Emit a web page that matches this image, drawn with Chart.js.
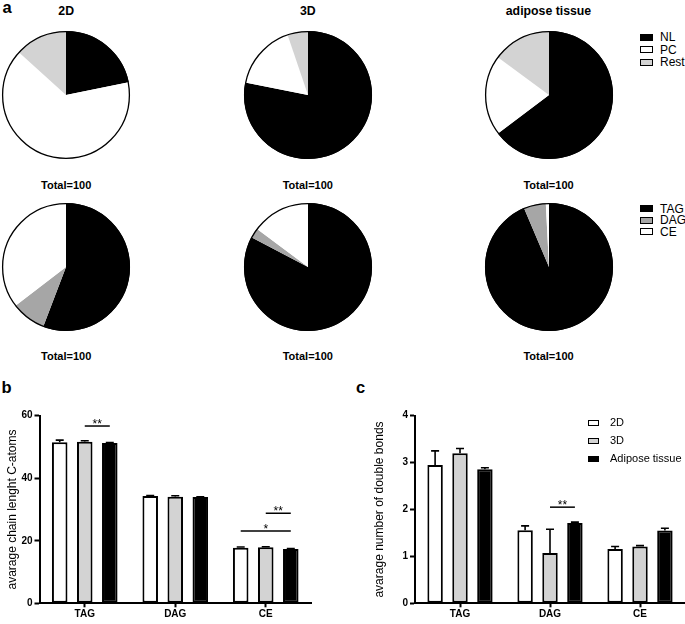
<!DOCTYPE html>
<html><head><meta charset="utf-8">
<script src="https://cdn.jsdelivr.net/npm/chart.js@4.4.0/dist/chart.umd.min.js"></script>
<style>
html,body{margin:0;padding:0;background:#fff;}
body{width:685px;height:624px;position:relative;overflow:hidden;font-family:'Liberation Sans',Arial,sans-serif;color:#000;}
.abs{position:absolute;line-height:1;white-space:nowrap;}
canvas{position:absolute;}
.sw{position:absolute;border:1px solid #000;box-sizing:border-box;}
</style></head>
<body>
<script>
// ---------- data ----------
const pieTitles = ['2D', '3D', 'adipose tissue'];
const totalLabel = 'Total=100';
const lipidClasses = ['NL', 'PC', 'Rest'];
const lipid2D = [21.8, 64.9, 13.3];
const lipid3D = [78.1, 16.7, 5.2];
const lipidAdipose = [64.7, 20.4, 14.9];
const neutralClasses = ['TAG', 'DAG', 'CE'];
const neutral2D = [55.8, 8.8, 35.4];
const neutral3D = [82.7, 2.5, 14.8];
const neutralAdipose = [93.6, 5.6, 0.8];

const barCategories = ['TAG', 'DAG', 'CE'];
const seriesNames = ['2D', '3D', 'Adipose tissue'];
const chain2D = [51.5, 34.3, 17.8];
const chain3D = [51.7, 34.1, 17.9];
const chainAdipose = [51.3, 34.0, 17.4];
const chain2DErr = [0.7, 0.2, 0.2];
const chain3DErr = [0.3, 0.3, 0.2];
const chainAdiposeErr = [0.1, 0.1, 0.1];
const chainTicks = [0, 20, 40, 60];
const bonds2D = [2.95, 1.56, 1.16];
const bonds3D = [3.20, 1.07, 1.21];
const bondsAdipose = [2.86, 1.71, 1.55];
const bonds2DErr = [0.30, 0.09, 0.05];
const bonds3DErr = [0.10, 0.51, 0.02];
const bondsAdiposeErr = [0.03, 0.02, 0.05];
const bondsTicks = [0, 1, 2, 3, 4];
const chainSig = [
  {cat: 'TAG', from: 1, to: 2, value: 56.7, text: '**'},
  {cat: 'CE', from: 1, to: 2, value: 28.8, text: '**'},
  {cat: 'CE', from: 0, to: 2, value: 23.1, text: '*'}
];
const bondsSig = [
  {cat: 'DAG', from: 1, to: 2, value: 2.05, text: '**'}
];

// ---------- styling ----------
const FONT = "'Liberation Sans', Arial, sans-serif";
const lipidColors = ['#000000', '#ffffff', '#d3d3d3'];
const neutralColors = ['#000000', '#a6a6a6', '#ffffff'];
const barColors = ['#ffffff', '#d3d3d3', '#000000'];

function addText(txt, x, y, size, bold, align) {
  const d = document.createElement('div');
  d.className = 'abs';
  d.textContent = txt;
  d.style.fontSize = size + 'px';
  d.style.fontWeight = bold ? 'bold' : 'normal';
  d.style.top = (y - 0.8465 * size) + 'px'; // y = baseline
  if (align === 'center') { d.style.left = x + 'px'; d.style.transform = 'translateX(-50%)'; }
  else d.style.left = x + 'px';
  document.body.appendChild(d);
}
function addCanvas(left, top, w, h) {
  const c = document.createElement('canvas');
  c.width = w; c.height = h;
  c.style.left = left + 'px'; c.style.top = top + 'px';
  c.style.width = w + 'px'; c.style.height = h + 'px';
  document.body.appendChild(c);
  return c;
}
function addLegend(labels, colors, x, yCenters, sw, swH, textX, size, bw) {
  labels.forEach((l, i) => {
    const s = document.createElement('div');
    s.className = 'sw';
    s.style.left = x + 'px'; s.style.top = (yCenters[i] - swH / 2) + 'px';
    s.style.width = sw + 'px'; s.style.height = swH + 'px';
    s.style.background = colors[i]; s.style.borderWidth = bw + 'px';
    document.body.appendChild(s);
    addText(l, textX, yCenters[i] + 0.36 * size, size, false, 'left');
  });
}

const outlinePlugin = {
  id: 'outline',
  afterDatasetsDraw(chart) {
    const arc = chart.getDatasetMeta(0).data[0];
    const ctx = chart.ctx;
    ctx.save();
    ctx.strokeStyle = '#000'; ctx.lineWidth = 1.3;
    ctx.beginPath(); ctx.arc(arc.x, arc.y, arc.outerRadius - 0.6, 0, Math.PI * 2); ctx.stroke();
    ctx.restore();
  }
};
function pieChart(cx, cy, labels, values, colors) {
  const c = addCanvas(cx - 65, cy - 65, 130, 130);
  return new Chart(c, {
    type: 'pie',
    data: {labels: labels, datasets: [{data: values, backgroundColor: colors, borderWidth: 0}]},
    options: {
      responsive: false, animation: false,
      layout: {padding: 1},
      plugins: {legend: {display: false}, tooltip: {enabled: false}}
    },
    plugins: [outlinePlugin]
  });
}

// panel a
addText('a', 2.5, 13.3, 16.5, true, 'left');
const pieX = [66.2, 307.8, 548.5];
const rowY = [94.7, 266.6];
pieTitles.forEach((t, i) => addText(t, pieX[i], 15, 12.3, true, 'center'));
[lipid2D, lipid3D, lipidAdipose].forEach((v, i) => pieChart(pieX[i], rowY[0], lipidClasses, v, lipidColors));
[neutral2D, neutral3D, neutralAdipose].forEach((v, i) => pieChart(pieX[i], rowY[1], neutralClasses, v, neutralColors));
pieX.forEach(x => { addText(totalLabel, x, 189.3, 11, true, 'center'); addText(totalLabel, x, 360.7, 11, true, 'center'); });
addLegend(lipidClasses, lipidColors, 640, [37, 49.5, 62], 13, 7, 660, 12, 1);
addLegend(neutralClasses, neutralColors, 640, [208.5, 220, 231.5], 13, 7, 660, 12, 1);

// ---------- bar charts ----------
const errorBarPlugin = {
  id: 'errbars',
  afterDatasetsDraw(chart) {
    const ctx = chart.ctx, y = chart.scales.y;
    chart.data.datasets.forEach((ds, i) => {
      chart.getDatasetMeta(i).data.forEach((bar, j) => {
        const yTop = y.getPixelForValue(ds.data[j] + ds.errors[j]);
        ctx.save(); ctx.strokeStyle = '#000'; ctx.lineWidth = 1.6;
        ctx.beginPath();
        ctx.moveTo(bar.x, bar.y); ctx.lineTo(bar.x, yTop);
        ctx.moveTo(bar.x - 4, yTop); ctx.lineTo(bar.x + 4, yTop);
        ctx.stroke(); ctx.restore();
      });
    });
  }
};
function sigPlugin(items) {
  return {
    id: 'sig',
    afterDatasetsDraw(chart) {
      const ctx = chart.ctx, y = chart.scales.y;
      items.forEach(it => {
        const ci = barCategories.indexOf(it.cat);
        const x1 = chart.getDatasetMeta(it.from).data[ci].x;
        const x2 = chart.getDatasetMeta(it.to).data[ci].x;
        const yp = y.getPixelForValue(it.value);
        ctx.save(); ctx.strokeStyle = '#000'; ctx.lineWidth = 1.5;
        ctx.beginPath(); ctx.moveTo(x1, yp); ctx.lineTo(x2, yp); ctx.stroke();
        ctx.fillStyle = '#000'; ctx.font = '12px ' + FONT;
        ctx.textAlign = 'center'; ctx.textBaseline = 'alphabetic';
        ctx.fillText(it.text, (x1 + x2) / 2, yp + 1.5);
        ctx.restore();
      });
    }
  };
}
function barChart(left, width, vals, errs, ticks, title, sigs, padLeft, padRight, axisW, titlePad) {
  const c = addCanvas(left, 390, width, 234);
  return new Chart(c, {
    type: 'bar',
    data: {
      labels: barCategories,
      datasets: seriesNames.map((n, i) => ({
        label: n, data: vals[i], errors: errs[i],
        backgroundColor: barColors[i], borderColor: '#000', borderWidth: 2, borderSkipped: false,
        categoryPercentage: 0.83, barPercentage: 0.62
      }))
    },
    options: {
      responsive: false, animation: false,
      layout: {padding: {left: padLeft, right: padRight, top: 25.7, bottom: 0}},
      plugins: {legend: {display: false}, tooltip: {enabled: false}},
      scales: {
        x: {
          grid: {display: true, drawOnChartArea: false, offset: false, tickLength: 4, tickWidth: 2, tickColor: '#000'},
          border: {display: true, color: '#000', width: 2},
          ticks: {color: '#000', font: {family: FONT, size: 10, weight: 'bold'}, padding: 1},
          afterFit: s => { s.height = 20.7; }
        },
        y: {
          min: ticks[0], max: ticks[ticks.length - 1],
          afterBuildTicks: s => { s.ticks = ticks.map(v => ({value: v})); },
          grid: {display: true, drawOnChartArea: false, tickLength: 5, tickWidth: 2, tickColor: '#000'},
          border: {display: true, color: '#000', width: 2},
          ticks: {color: '#000', font: {family: FONT, size: 10, weight: 'bold'}, padding: 2},
          title: {display: true, text: title, color: '#000', font: {family: FONT, size: 12}, padding: {top: titlePad, bottom: 0}},
          afterFit: s => { s.width = axisW; }
        }
      }
    },
    plugins: [errorBarPlugin, sigPlugin(sigs)]
  });
}
addText('b', 1.5, 393.3, 16.5, true, 'left');
addText('c', 356, 393.3, 16.5, true, 'left');
barChart(0, 340, [chain2D, chain3D, chainAdipose], [chain2DErr, chain3DErr, chainAdiposeErr], chainTicks,
  'avarage chain lenght C-atoms', chainSig, 0, 29, 39.5, 5.8);
barChart(340, 345, [bonds2D, bonds3D, bondsAdipose], [bonds2DErr, bonds3DErr, bondsAdiposeErr], bondsTicks,
  'avarage number of double bonds', bondsSig, 29, 0, 46, 3.8);
addLegend(seriesNames, barColors, 588, [422.5, 440.5, 458.5], 11, 6, 610, 11, 1.5);
</script>
</body></html>
